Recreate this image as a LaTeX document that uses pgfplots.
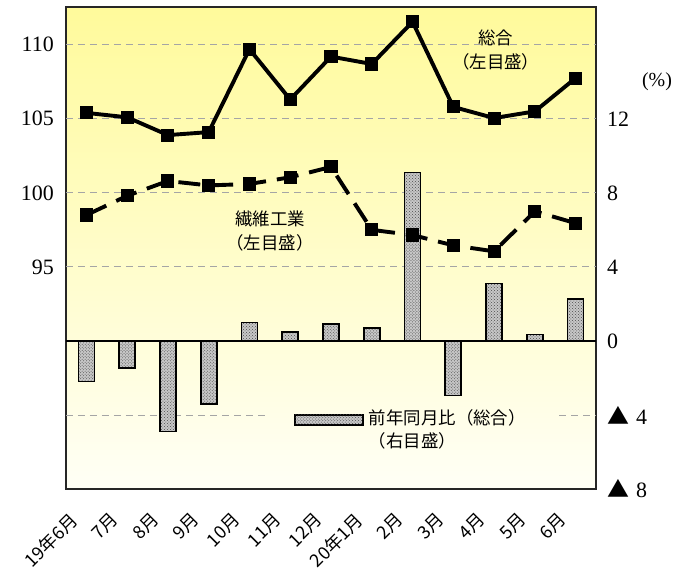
\documentclass[border=0pt]{standalone}
\usepackage{fontspec}
\usepackage{pgfplots}
\pgfplotsset{compat=1.18}
\usetikzlibrary{patterns}
\newfontfamily\cjk{Noto Sans CJK JP}
\newfontfamily\numf{Liberation Serif}
\definecolor{bgtop}{RGB}{255,250,155}
\definecolor{bgbot}{RGB}{255,255,246}
\definecolor{gridgray}{RGB}{165,165,165}
\tikzset{
  barsty/.style={draw=black, line width=1.7bp, fill=black!22,
    postaction={pattern=crosshatch dots, pattern color=black!70}},
  gridsty/.style={gridgray, line width=0.8bp, dash pattern=on 7bp off 5bp},
}
\newcommand{\tri}{{\cjk ▲}\kern7bp}
\begin{document}
\begin{tikzpicture}
% right scale: year-on-year change (bars)
\begin{axis}[
  scale only axis, width=530bp, height=482bp,
  xmin=-0.5, xmax=12.5, ymin=-8, ymax=18.04,
  clip=false,
  axis background/.style={top color=bgtop, bottom color=bgbot},
  axis line style={line width=1.8bp, black!85},
  major tick length=0pt,
  xtick={0,...,12},
  xticklabels={19年6月,7月,8月,9月,10月,11月,12月,20年1月,2月,3月,4月,5月,6月},
  xticklabel style={font=\cjk\fontsize{18}{18}\selectfont,
    xshift=-18bp, yshift=-22bp, rotate=45, anchor=north east, inner sep=0pt},
  ytick={-8,-4,0,4,8,12},
  yticklabels={\tri 8,\tri 4,0,4,8,12},
  yticklabel pos=right,
  yticklabel style={anchor=west, font=\numf\fontsize{22}{24}\selectfont, xshift=11bp, inner sep=0pt},
  extra y ticks={4,8,12,16}, extra y tick labels={},
  extra y tick style={grid=major},
  major grid style={gridsty},
]
\draw[gridsty] (axis cs:-0.5,-4) -- (axis cs:4.4,-4);
\draw[gridsty] (axis cs:11.6,-4) -- (axis cs:12.5,-4);
\addplot[ybar, bar width=16bp, barsty] coordinates {
  (0,-2.2) (1,-1.45) (2,-4.9) (3,-3.4) (4,1.0) (5,0.5) (6,0.9)
  (7,0.7) (8,9.1) (9,-2.95) (10,3.1) (11,0.35) (12,2.25)
};
\draw[black, line width=1.7bp] (axis cs:-0.5,0) -- (axis cs:12.5,0);
% legend
\draw[barsty] (rel axis cs:0.432,0.133) rectangle (rel axis cs:0.560,0.154);
\node[font=\cjk\fontsize{17.5}{23}\selectfont, align=left, anchor=north west, inner sep=0pt]
  at (rel axis cs:0.571,0.166) {前年同月比（総合）\\（右目盛）};
\end{axis}
% left scale: indices (lines)
\begin{axis}[
  scale only axis, width=530bp, height=482bp,
  xmin=-0.5, xmax=12.5, ymin=80, ymax=112.55,
  clip=false,
  hide x axis,
  axis y line*=left,
  axis line style={draw=none},
  major tick length=0pt,
  ytick={95,100,105,110},
  yticklabels={95,100,105,110},
  yticklabel style={anchor=east, font=\numf\fontsize{22}{24}\selectfont, xshift=-12bp, inner sep=0pt},
]
\addplot[black, line width=3.9bp, mark=square*, mark size=4.6bp] coordinates {
  (0,105.4) (1,105.1) (2,103.9) (3,104.1) (4,109.7) (5,106.3) (6,109.2)
  (7,108.7) (8,111.55) (9,105.8) (10,105.05) (11,105.5) (12,107.75)
};
\addplot[black, line width=3.9bp, dash pattern=on 22bp off 11bp,
  mark=square*, mark size=4.6bp, mark options={solid}] coordinates {
  (0,98.5) (1,99.8) (2,100.8) (3,100.5) (4,100.6) (5,101.05) (6,101.75)
  (7,97.5) (8,97.15) (9,96.45) (10,96.05) (11,98.75) (12,97.95)
};
\node[font=\cjk\fontsize{17.5}{24}\selectfont, align=center]
  at (rel axis cs:0.811,0.911) {総合\\（左目盛）};
\node[font=\cjk\fontsize{17.5}{24}\selectfont, align=center]
  at (rel axis cs:0.385,0.535) {繊維工業\\（左目盛）};
\node[font=\numf\fontsize{20}{22}\selectfont] at (rel axis cs:1.115,0.846) {(\%)};
\end{axis}
\pgfresetboundingbox
\path[use as bounding box] (-66bp,-81bp) rectangle (621bp,489bp);
\end{tikzpicture}
\end{document}
